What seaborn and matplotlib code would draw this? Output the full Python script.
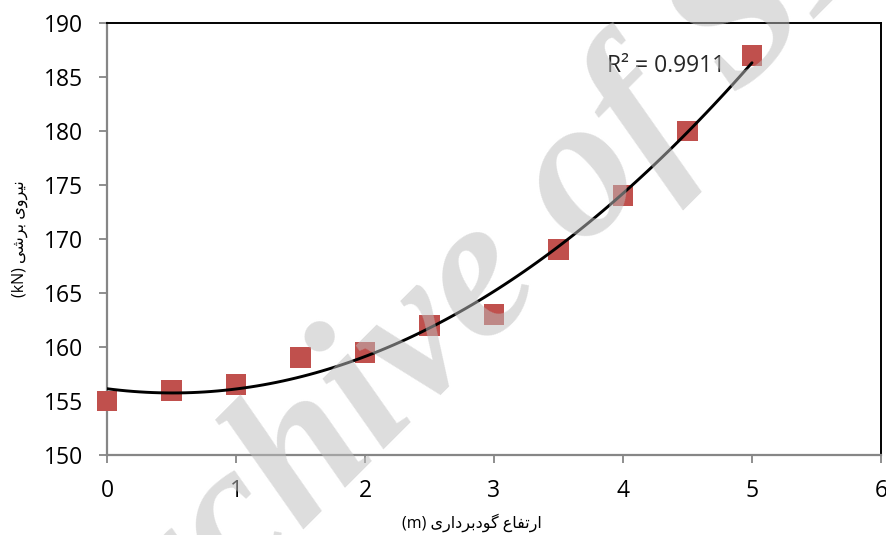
import numpy as np
import pandas as pd
import matplotlib
matplotlib.use("Agg")
import matplotlib.pyplot as plt
import seaborn as sns
from matplotlib.transforms import IdentityTransform

# ---------------- data ----------------
depth = [0, 0.5, 1, 1.5, 2, 2.5, 3, 3.5, 4, 4.5, 5]
shear_force = [155, 156, 156.5, 159, 159.5, 162, 163, 169, 174, 180, 187]
x_ticks = [0, 1, 2, 3, 4, 5, 6]
y_ticks = [150, 155, 160, 165, 170, 175, 180, 185, 190]
r2_label = "R² = 0.9911"
xlabel_fa = "ارتفاع گودبرداری"
xlabel_unit = "(m)"
ylabel_fa = "نیروی برشی"
ylabel_unit = "(kN)"
watermark = "Archive of SID"

# ---------------- Persian shaping (visual order) ----------------
FORMS = {
    'ا': ('\uFE8D', '\uFE8E', None, None),
    'ر': ('\uFEAD', '\uFEAE', None, None),
    'د': ('\uFEA9', '\uFEAA', None, None),
    'و': ('\uFEED', '\uFEEE', None, None),
    'ت': ('\uFE95', '\uFE96', '\uFE97', '\uFE98'),
    'ف': ('\uFED1', '\uFED2', '\uFED3', '\uFED4'),
    'ع': ('\uFEC9', '\uFECA', '\uFECB', '\uFECC'),
    'گ': ('\uFB92', '\uFB93', '\uFB94', '\uFB95'),
    'ب': ('\uFE8F', '\uFE90', '\uFE91', '\uFE92'),
    'ی': ('\uFBFC', '\uFBFD', '\uFBFE', '\uFBFF'),
    'ن': ('\uFEE5', '\uFEE6', '\uFEE7', '\uFEE8'),
    'ش': ('\uFEB5', '\uFEB6', '\uFEB7', '\uFEB8'),
}


def shape_fa(s):
    out = []
    for i, ch in enumerate(s):
        if ch not in FORMS:
            out.append(ch)
            continue
        prev = s[i - 1] if i > 0 else None
        nxt = s[i + 1] if i + 1 < len(s) else None
        join_prev = prev in FORMS and FORMS[prev][2] is not None
        join_next = nxt in FORMS and FORMS[ch][2] is not None
        iso, fin, ini, med = FORMS[ch]
        if join_prev and join_next:
            out.append(med)
        elif join_prev:
            out.append(fin)
        elif join_next:
            out.append(ini)
        else:
            out.append(iso)
    return "".join(reversed(out))


# ---------------- plot ----------------
sns.set_theme(style="white")
plt.rcParams['font.family'] = ['Open Sans', 'DejaVu Sans']

W, H = 887, 535
fig = plt.figure(figsize=(W / 100, H / 100), dpi=100)
fig.patch.set_facecolor("white")
ax = fig.add_axes([107 / W, 1 - 455 / H, 774 / W, 432 / H])

df = pd.DataFrame({"depth": depth, "shear": shear_force})
sns.regplot(data=df, x="depth", y="shear", order=2, ci=None, ax=ax,
            marker="s", color="#C0504D",
            scatter_kws=dict(s=220, color="#C0504D", edgecolors="none",
                             linewidths=0, alpha=1, zorder=3, clip_on=False),
            line_kws=dict(color="black", lw=2.1, zorder=4))

ax.set_xlim(0, 6)
ax.set_ylim(150, 190)
ax.set_xticks(x_ticks)
ax.set_yticks(y_ticks)
ax.set_xticklabels([str(t) for t in x_ticks])
ax.set_yticklabels([str(t) for t in y_ticks])
ax.tick_params(axis="both", which="major", bottom=True, left=True,
               direction="out", length=6, width=1.3, color="#868686",
               labelsize=16.5, labelcolor="black", pad=11)

for side in ("left", "bottom"):
    ax.spines[side].set_color("#868686")
    ax.spines[side].set_linewidth(1.6)
for side in ("top", "right"):
    ax.spines[side].set_color("black")
    ax.spines[side].set_linewidth(1.4)
ax.grid(False)

ax.set_xlabel(xlabel_unit + " " + shape_fa(xlabel_fa), fontsize=11.5,
              color="black")
ax.set_ylabel(ylabel_unit + " " + shape_fa(ylabel_fa), fontsize=11.5,
              color="black")
ax.xaxis.label.set_va("center")
ax.yaxis.label.set_va("center")
ax.xaxis.set_label_coords(0.4716, -0.157)
ax.yaxis.set_label_coords(-0.1124, 0.5)

ax.text(3.876, 185.46, r2_label, fontsize=16.5, color="#262626",
        ha="left", va="baseline", zorder=5)

# watermark (rotated italic serif, semi-transparent, over the plot)
fig.text(91, -218, watermark, transform=IdentityTransform(),
         fontsize=145, family="Liberation Serif", weight="bold",
         style="italic", color=(0.745, 0.745, 0.745), alpha=0.52,
         rotation=45, rotation_mode="anchor",
         ha="left", va="baseline", zorder=20)

fig.savefig("out.png", dpi=100)
